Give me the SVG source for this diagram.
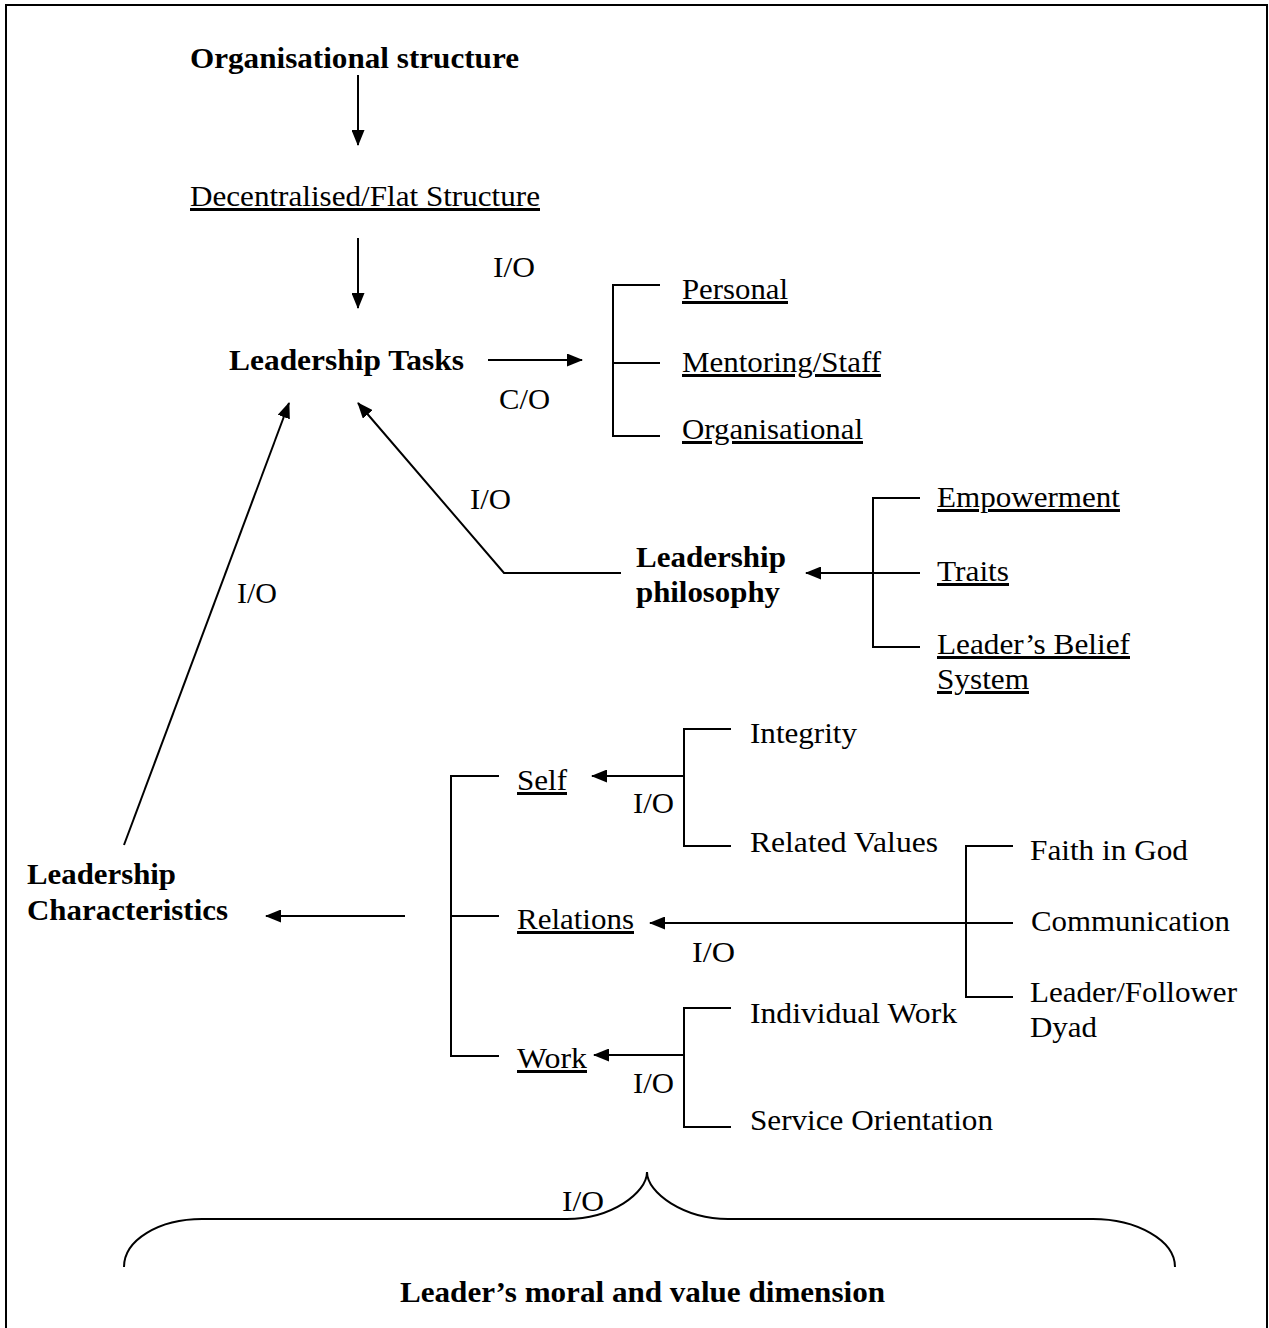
<svg xmlns="http://www.w3.org/2000/svg" width="1269" height="1328" viewBox="0 0 1269 1328" font-family="'Liberation Serif', 'Times New Roman', serif">
<defs>
<marker id="ah" viewBox="0 0 16 13" refX="15" refY="6.5" markerWidth="16" markerHeight="13" markerUnits="userSpaceOnUse" orient="auto">
<path d="M0,0 L16,6.5 L0,13 z" fill="#000"/>
</marker>
<style>
text{font-family:'Liberation Serif','Times New Roman',serif;font-size:30px;fill:#000}
.b{font-weight:bold}
.u{text-decoration:underline}
.ln{fill:none;stroke:#000;stroke-width:2}
.ar{fill:none;stroke:#000;stroke-width:2;marker-end:url(#ah)}
</style>
</defs>
<rect x="0" y="0" width="1269" height="1328" fill="#fff"/>
<rect x="6" y="5" width="1261" height="1340" fill="none" stroke="#000" stroke-width="2"/>

<g id="connectors">
<line class="ar" x1="358" y1="75" x2="358" y2="145"/>
<line class="ar" x1="358" y1="238" x2="358" y2="308"/>
<line class="ar" x1="488" y1="360" x2="582" y2="360"/>
<path class="ln" d="M660,285 H613 V436 H660 M613,363 H660"/>
<line class="ar" x1="124" y1="845" x2="289" y2="403"/>
<polyline class="ar" points="621,573 504,573 358,403"/>
<path class="ln" d="M920,498 H873 V647 H920"/>
<line class="ar" x1="920" y1="573" x2="806" y2="573"/>
<path class="ln" d="M731,729 H684 V846 H731"/>
<line class="ar" x1="684" y1="776" x2="592" y2="776"/>
<path class="ln" d="M499,776 H451 V1056 H499 M451,916 H499"/>
<line class="ar" x1="405" y1="916" x2="266" y2="916"/>
<path class="ln" d="M1013,846 H966 V997 H1013"/>
<line class="ar" x1="1013" y1="923" x2="650" y2="923"/>
<path class="ln" d="M731,1008 H684 V1127 H731"/>
<line class="ar" x1="684" y1="1055" x2="594" y2="1055"/>
<path class="ln" d="M124,1267 C124,1240 159,1219 202,1219 H567 C611,1219 647,1193 647,1172 C647,1193 684,1219 728,1219 H1093 C1136,1219 1175,1240 1175,1267"/>
<text x="493" y="277" textLength="42" lengthAdjust="spacingAndGlyphs">I/O</text>
<text x="499" y="409" textLength="51" lengthAdjust="spacingAndGlyphs">C/O</text>
<text x="470" y="509" textLength="41" lengthAdjust="spacingAndGlyphs">I/O</text>
<text x="237" y="603" textLength="40" lengthAdjust="spacingAndGlyphs">I/O</text>
<text x="633" y="813" textLength="41" lengthAdjust="spacingAndGlyphs">I/O</text>
<text x="692" y="962" textLength="43" lengthAdjust="spacingAndGlyphs">I/O</text>
<text x="633" y="1093" textLength="41" lengthAdjust="spacingAndGlyphs">I/O</text>
<text x="562" y="1211" textLength="42" lengthAdjust="spacingAndGlyphs">I/O</text>
</g>

<g id="org-structure"><text class="b" x="190" y="68" textLength="329" lengthAdjust="spacingAndGlyphs">Organisational structure</text></g>
<g id="decentralised"><text class="u" x="190" y="206" textLength="350" lengthAdjust="spacingAndGlyphs">Decentralised/Flat Structure</text></g>
<g id="leadership-tasks"><text class="b" x="229" y="370" textLength="235" lengthAdjust="spacingAndGlyphs">Leadership Tasks</text></g>
<g id="personal"><text class="u" x="682" y="299" textLength="106" lengthAdjust="spacingAndGlyphs">Personal</text></g>
<g id="mentoring"><text class="u" x="682" y="372" textLength="199" lengthAdjust="spacingAndGlyphs">Mentoring/Staff</text></g>
<g id="organisational"><text class="u" x="682" y="439" textLength="181" lengthAdjust="spacingAndGlyphs">Organisational</text></g>
<g id="leadership-philosophy">
<text class="b" x="636" y="567" textLength="150" lengthAdjust="spacingAndGlyphs">Leadership</text>
<text class="b" x="636" y="602" textLength="144" lengthAdjust="spacingAndGlyphs">philosophy</text>
</g>
<g id="empowerment"><text class="u" x="937" y="507" textLength="183" lengthAdjust="spacingAndGlyphs">Empowerment</text></g>
<g id="traits"><text class="u" x="937" y="581" textLength="72" lengthAdjust="spacingAndGlyphs">Traits</text></g>
<g id="belief-system">
<text class="u" x="937" y="654" textLength="193" lengthAdjust="spacingAndGlyphs">Leader’s Belief</text>
<text class="u" x="937" y="689" textLength="92" lengthAdjust="spacingAndGlyphs">System</text>
</g>
<g id="integrity"><text x="750" y="743" textLength="107" lengthAdjust="spacingAndGlyphs">Integrity</text></g>
<g id="self"><text class="u" x="517" y="790" textLength="50" lengthAdjust="spacingAndGlyphs">Self</text></g>
<g id="related-values"><text x="750" y="852" textLength="188" lengthAdjust="spacingAndGlyphs">Related Values</text></g>
<g id="faith"><text x="1030" y="860" textLength="158" lengthAdjust="spacingAndGlyphs">Faith in God</text></g>
<g id="leadership-characteristics">
<text class="b" x="27" y="884" textLength="149" lengthAdjust="spacingAndGlyphs">Leadership</text>
<text class="b" x="27" y="920" textLength="201" lengthAdjust="spacingAndGlyphs">Characteristics</text>
</g>
<g id="relations"><text class="u" x="517" y="929" textLength="117" lengthAdjust="spacingAndGlyphs">Relations</text></g>
<g id="communication"><text x="1031" y="931" textLength="199" lengthAdjust="spacingAndGlyphs">Communication</text></g>
<g id="dyad">
<text x="1030" y="1002" textLength="207" lengthAdjust="spacingAndGlyphs">Leader/Follower</text>
<text x="1030" y="1037" textLength="67" lengthAdjust="spacingAndGlyphs">Dyad</text>
</g>
<g id="individual-work"><text x="750" y="1023" textLength="207" lengthAdjust="spacingAndGlyphs">Individual Work</text></g>
<g id="work"><text class="u" x="517" y="1068" textLength="70" lengthAdjust="spacingAndGlyphs">Work</text></g>
<g id="service"><text x="750" y="1130" textLength="243" lengthAdjust="spacingAndGlyphs">Service Orientation</text></g>
<g id="moral-dimension"><text class="b" x="400" y="1302" textLength="485" lengthAdjust="spacingAndGlyphs">Leader’s moral and value dimension</text></g>
</svg>
